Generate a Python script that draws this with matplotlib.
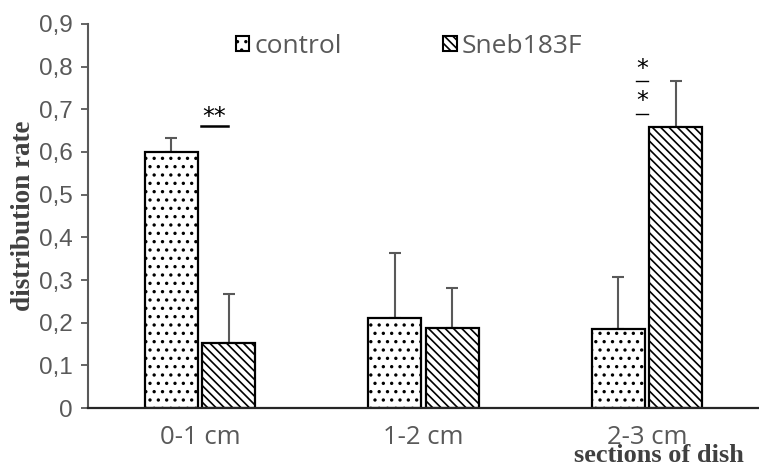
import matplotlib
matplotlib.use("Agg")
import matplotlib.pyplot as plt
import numpy as np
from matplotlib.patches import Patch

categories = ["0-1 cm", "1-2 cm", "2-3 cm"]
control = [0.600, 0.212, 0.185]
control_err = [0.033, 0.151, 0.123]
sneb = [0.153, 0.187, 0.658]
sneb_err = [0.114, 0.095, 0.108]
yticks = [0, 0.1, 0.2, 0.3, 0.4, 0.5, 0.6, 0.7, 0.8, 0.9]

plt.rcParams['hatch.linewidth'] = 1.2
gray = "#595959"

fig = plt.figure(figsize=(7.59, 4.68), dpi=100)
ax = fig.add_axes([0.116, 0.128, 0.884, 0.821])

x = np.arange(len(categories))
width = 0.237
gap = 0.02

ax.bar(x - width/2 - gap/2, control, width, color="white", edgecolor="black",
       linewidth=1.6, hatch="..", zorder=2)
ax.bar(x + width/2 + gap/2, sneb, width, color="white", edgecolor="black",
       linewidth=1.6, hatch="\\\\\\\\", zorder=2)
ax.errorbar(x - width/2 - gap/2, control, yerr=[np.zeros(3), control_err],
            fmt="none", ecolor=gray, elinewidth=1.5, capsize=4.5, capthick=1.5, zorder=1)
ax.errorbar(x + width/2 + gap/2, sneb, yerr=[np.zeros(3), sneb_err],
            fmt="none", ecolor=gray, elinewidth=1.5, capsize=4.5, capthick=1.5, zorder=1)

# significance marks
ax.text(0.065, 0.683, "**", ha="center", va="center", fontsize=17, color="black",
        family="DejaVu Sans")
ax.plot([0.005, 0.125], [0.661, 0.661], color="black", lw=1.8)
ax.text(1.977, 0.795, "*", ha="center", va="center", fontsize=17, color="black",
        family="DejaVu Sans")
ax.plot([1.95, 2.003], [0.766, 0.766], color="black", lw=1.0)
ax.text(1.977, 0.72, "*", ha="center", va="center", fontsize=17, color="black",
        family="DejaVu Sans")
ax.plot([1.95, 2.003], [0.689, 0.689], color="black", lw=1.0)

ax.set_xlim(-0.5, 2.5)
ax.set_ylim(0, 0.9)
ax.set_yticks(yticks)
ax.set_yticklabels([f"{v:g}".replace(".", ",") for v in yticks],
                   fontsize=17.5, color=gray, family="Liberation Sans")
ax.set_xticks(x)
ax.set_xticklabels(categories, fontsize=18.5, color=gray, family="Open Sans")
ax.tick_params(axis="x", length=0, pad=12)
ax.tick_params(axis="y", length=5, width=1.3, color=gray, pad=6)

for s in ["top", "right"]:
    ax.spines[s].set_visible(False)
ax.spines["left"].set_color(gray)
ax.spines["left"].set_linewidth(1.5)
ax.spines["bottom"].set_color("#262626")
ax.spines["bottom"].set_linewidth(1.6)

ax.set_ylabel("distribution rate", fontsize=19.5, fontweight="bold", color="#404040",
              family="Liberation Serif", labelpad=2)
fig.text(0.98, 0.002, "sections of dish", ha="right", va="bottom", fontsize=19,
         fontweight="bold", color="#404040", family="Liberation Serif")

handles = [Patch(facecolor="white", edgecolor="black", hatch="..", linewidth=1.5),
           Patch(facecolor="white", edgecolor="black", hatch="\\\\\\\\", linewidth=1.5)]
leg = ax.legend(handles, ["control", "Sneb183F"], loc="upper left",
                bbox_to_anchor=(0.185, 1.035), ncol=2, frameon=False,
                handlelength=0.5, handleheight=0.5, handletextpad=0.2,
                columnspacing=3.85, prop={"family": "Open Sans", "size": 19})
for t in leg.get_texts():
    t.set_color(gray)

fig.savefig("out.png", dpi=100)
